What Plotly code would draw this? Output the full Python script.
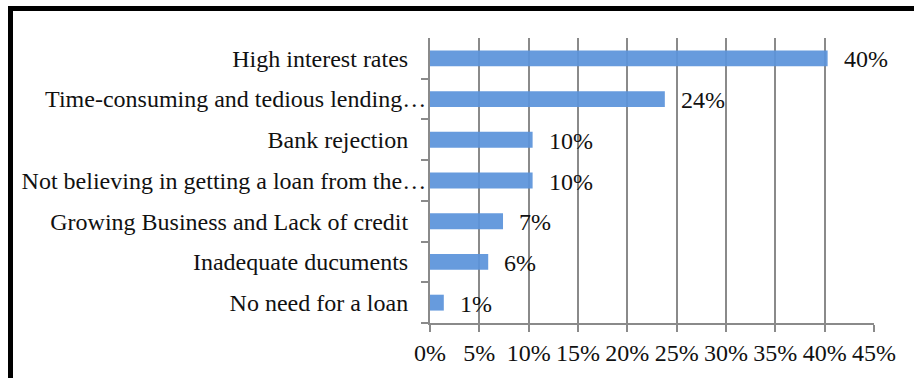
import plotly.graph_objects as go

# Reasons for not taking a bank loan (share of respondents, %)
categories = [
    "High interest rates",
    "Time-consuming and tedious lending…",
    "Bank rejection ",
    "Not believing in getting a loan from the…",
    "Growing Business and Lack of credit",
    "Inadequate ducuments",
    "No need for a loan",
]
shares = [40.3, 23.8, 10.4, 10.4, 7.4, 5.9, 1.4]
x_ticks = [0, 5, 10, 15, 20, 25, 30, 35, 40, 45]

FONT = "Liberation Serif, Times New Roman, serif"
GRID = "#8a8a8a"
BAR = "#5b93da"
INK = "#111111"

# truncated labels run right up to the axis; full ones sit a little further left
PAD = "\u00a0" * 3
y_text = [c if c.endswith("…") else c.rstrip() + PAD for c in categories]

fig = go.Figure(
    go.Bar(
        x=shares,
        y=categories,
        orientation="h",
        marker=dict(color=BAR, opacity=0.93, line=dict(width=0)),
        width=0.39,
        hoverinfo="skip",
    )
)

# value labels just past the end of each bar
for cat, v in zip(categories, shares):
    fig.add_annotation(
        x=v, y=cat, text=f"{v:.0f}%", showarrow=False,
        xanchor="left", yanchor="middle", xshift=14, yshift=-1,
        font=dict(family=FONT, size=24, color=INK),
    )

# outer frame (top and left edges visible)
fig.add_shape(
    type="rect", xref="paper", yref="paper",
    x0=(10.5 - 430) / 444, x1=(930 - 430) / 444,
    y0=(323 - 400) / 285, y1=(323 - 8.5) / 285,
    line=dict(color="black", width=5), fillcolor="rgba(0,0,0,0)",
    layer="above",
)

fig.update_layout(
    width=914, height=378,
    margin=dict(l=430, r=40, t=38, b=55),
    paper_bgcolor="white", plot_bgcolor="white",
    showlegend=False,
    font=dict(family=FONT, size=24, color=INK),
    xaxis=dict(
        range=[0, 45], tickvals=x_ticks,
        ticktext=[f"{t}%" for t in x_ticks],
        showgrid=True, gridcolor=GRID, gridwidth=2,
        showline=True, linecolor=GRID, linewidth=2,
        ticks="outside", ticklen=7, tickwidth=2, tickcolor=GRID,
        zeroline=False, fixedrange=True, automargin=False,
        tickfont=dict(family=FONT, size=24, color=INK),
    ),
    yaxis=dict(
        categoryorder="array", categoryarray=categories[::-1],
        tickvals=categories, ticktext=y_text,
        showline=True, linecolor=GRID, linewidth=2,
        ticks="outside", ticklen=7, tickwidth=2, tickcolor=GRID,
        tickson="boundaries", showgrid=False, zeroline=False,
        ticklabelstandoff=-3, fixedrange=True, automargin=False,
        tickfont=dict(family=FONT, size=24, color=INK),
    ),
)

fig.write_html("out.html")
